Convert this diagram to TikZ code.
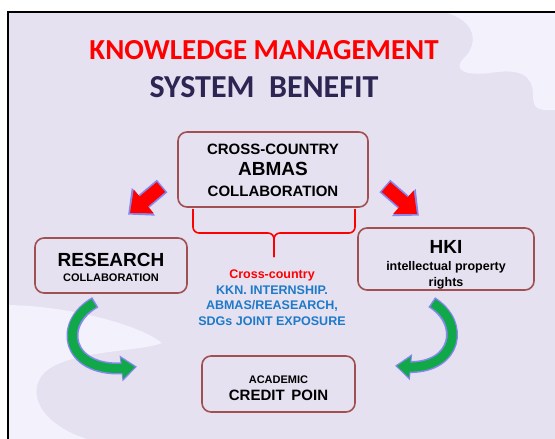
\documentclass[tikz,border=0pt]{standalone}
\usepackage{fontspec}
\setmainfont{Liberation Sans}
\newfontfamily\headfont{Carlito}
\usetikzlibrary{arrows.meta,bending,positioning}

\definecolor{slide}{RGB}{229,225,240}
\definecolor{slidelight}{RGB}{243,241,252}
\definecolor{boxline}{RGB}{160,80,80}
\definecolor{headred}{RGB}{255,0,0}
\definecolor{headnavy}{RGB}{45,38,82}
\definecolor{listblue}{RGB}{30,122,200}
\definecolor{glow}{RGB}{135,135,240}
\definecolor{arrowgreen}{RGB}{16,168,72}

\tikzset{
  topic/.style={draw=boxline, line width=1.6pt, rounded corners=9pt, align=center, inner sep=0pt},
  heading/.style={font=\headfont\bfseries\fontsize{29}{32}\selectfont},
  groupline/.style={draw=red, line width=1.6pt, rounded corners=6pt},
  redpush/.style={line width=13pt, draw=red, -{Triangle[width=30pt,length=18pt]}},
  redglow/.style={line width=16.5pt, draw=glow, -{Triangle[width=35pt,length=20pt]}, shorten >=-2.5pt, shorten <=-1.5pt},
  loopback/.style={line width=9pt, draw=arrowgreen, -{Triangle[width=20pt,length=13pt]}},
  loopglow/.style={line width=12pt, draw=glow, -{Triangle[width=25pt,length=16pt]}, shorten >=-2pt, shorten <=-1.5pt}
}

\begin{document}
\begin{tikzpicture}[x=1pt,y=-1pt]
  \useasboundingbox (0,0) rectangle (555,439);
  \fill[white] (0,0) rectangle (555,439);

  % slide background with the two pale swooshes
  \fill[slide] (8,12) rectangle (556,440);
  \fill[slidelight] (443,12) .. controls (478,20) and (478,45) .. (464,58)
    .. controls (452,70) and (465,76) .. (490,73)
    .. controls (520,68) and (533,75) .. (533,95)
    .. controls (533,108) and (536,111) .. (556,110) -- (556,12) -- cycle;
  \fill[slidelight] (8,305) .. controls (70,306) and (140,325) .. (162,343)
    .. controls (140,352) and (70,350) .. (45,372)
    .. controls (25,392) and (40,425) .. (90,440) -- (8,440) -- cycle;
  \draw[line width=1.2pt] (8,440) -- (8,12) -- (556,12);

  % title
  \node[heading, text=headred]  (head1) at (264,50) {KNOWLEDGE MANAGEMENT};
  \node[heading, text=headnavy, font=\headfont\bfseries\fontsize{32}{34}\selectfont]
    (head2) at (264,87) {SYSTEM\ \ BENEFIT};

  % boxes
  \node[topic, minimum width=190pt, minimum height=75pt, font=\bfseries\fontsize{15}{21}\selectfont]
    (abmas) at (273,169.5) {\rule{0pt}{13pt}CROSS-COUNTRY\\{\fontsize{19}{21}\selectfont ABMAS}\\COLLABORATION};
  \node[topic, minimum width=152pt, minimum height=55pt, font=\bfseries\fontsize{11}{15}\selectfont]
    (research) at (111,265.5) {{\fontsize{19}{21}\selectfont\rule{0pt}{18pt}RESEARCH}\\COLLABORATION};
  \node[topic, minimum width=176pt, minimum height=62pt, font=\bfseries\fontsize{12.5}{16.5}\selectfont]
    (hki) at (446,259) {{\fontsize{19}{21}\selectfont\rule{0pt}{25pt}HKI}\\intellectual property\\rights};
  \node[topic, minimum width=153pt, minimum height=56pt, font=\bfseries\fontsize{11}{17.5}\selectfont]
    (credit) at (278.5,384) {\rule{0pt}{16pt}ACADEMIC\\{\fontsize{15}{17}\selectfont CREDIT\ \,POIN}};

  % bracket under the top box and its activities
  \coordinate (grpL) at (193,209);
  \coordinate (grpR) at (355,209);
  \coordinate (grpTip) at (274,257);
  \draw[groupline] (grpL) |- (274,233) -- (grpTip);
  \draw[groupline] (grpR) |- (274,233) -- (grpTip);
  \node[font=\bfseries\fontsize{12.5}{14}\selectfont, text=headred] (crosstxt) at (272,275) {Cross-country};
  \node[below=0pt of crosstxt, align=center, inner sep=1pt, text=listblue,
        font=\bfseries\fontsize{12.5}{15.5}\selectfont] (activities)
    {KKN. INTERNSHIP.\\ABMAS/REASEARCH,\\SDGs JOINT EXPOSURE};

  % red arrows from the top box
  \coordinate (pushL) at (161,187);
  \coordinate (tipL)  at (130,213);
  \coordinate (pushR) at (386,187);
  \coordinate (tipR)  at (417,214);
  \draw[redglow] (pushL) -- (tipL);
  \draw[redpush] (pushL) -- (tipL);
  \draw[redglow] (pushR) -- (tipR);
  \draw[redpush] (pushR) -- (tipR);

  % green arrows down to the credit box
  \coordinate (loopL) at (94,303);
  \coordinate (endL)  at (135,367);
  \coordinate (loopR) at (433,303);
  \coordinate (endR)  at (397,366);
  \draw[loopglow] (loopL) .. controls (55,325) and (68,378) .. (endL);
  \draw[loopback] (loopL) .. controls (55,325) and (68,378) .. (endL);
  \draw[loopglow] (loopR) .. controls (468,325) and (455,375) .. (endR);
  \draw[loopback] (loopR) .. controls (468,325) and (455,375) .. (endR);
\end{tikzpicture}
\end{document}
